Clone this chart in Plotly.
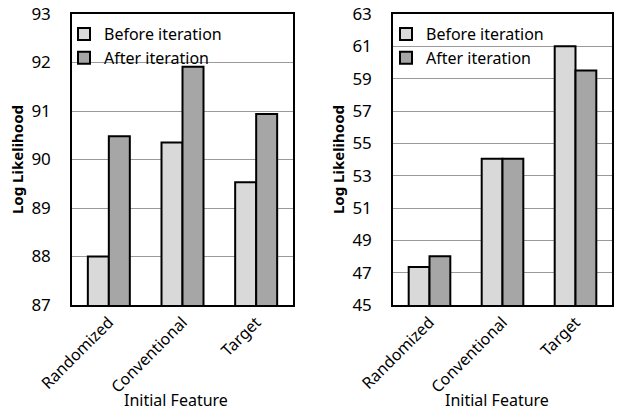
import plotly.graph_objects as go

categories = ["Randomized", "Conventional", "Target"]
left_before = [88.0, 90.35, 89.53]
left_after = [90.48, 91.91, 90.94]
right_before = [47.35, 54.05, 61.0]
right_after = [48.02, 54.05, 59.5]
left_ticks = [87, 88, 89, 90, 91, 92, 93]
right_ticks = [45, 47, 49, 51, 53, 55, 57, 59, 61, 63]

C_BEFORE = "#d9d9d9"
C_AFTER = "#a6a6a6"
FONT = "Noto Sans"

W, H = 617, 412
def px(X):
    return X / W
def py(Y):
    return 1 - Y / H

fig = go.Figure()
common = dict(marker_line=dict(color="black", width=2))
fig.add_trace(go.Bar(x=categories, y=left_before, name="Before iteration",
                     marker_color=C_BEFORE, xaxis="x", yaxis="y", legend="legend", **common))
fig.add_trace(go.Bar(x=categories, y=left_after, name="After iteration",
                     marker_color=C_AFTER, xaxis="x", yaxis="y", legend="legend", **common))
fig.add_trace(go.Bar(x=categories, y=right_before, name="Before iteration",
                     marker_color=C_BEFORE, xaxis="x2", yaxis="y2", legend="legend2", **common))
fig.add_trace(go.Bar(x=categories, y=right_after, name="After iteration",
                     marker_color=C_AFTER, xaxis="x2", yaxis="y2", legend="legend2", **common))

xax = dict(showline=True, linecolor="black", linewidth=1.5, mirror=True,
           tickangle=-45, ticks="", tickfont=dict(size=16, color="black", family=FONT),
           automargin=False, showgrid=False)
yax = dict(showline=True, linecolor="black", linewidth=1.5, mirror=True,
           showgrid=True, gridcolor="#9a9a9a", gridwidth=1, ticks="",
           tickfont=dict(size=17, color="black", family=FONT), ticklabelstandoff=16,
           title=dict(text="<b>Log Likelihood</b>", font=dict(size=15, color="black", family=FONT), standoff=4),
           automargin=False, zeroline=False)

y0, y1 = py(305), py(14)
leg = dict(xanchor="left", yanchor="top", bgcolor="rgba(0,0,0,0)",
           font=dict(size=16, family=FONT), tracegroupgap=0, itemwidth=30)
fig.update_layout(
    width=W, height=H,
    margin=dict(l=0, r=0, t=0, b=0),
    paper_bgcolor="white", plot_bgcolor="white",
    barmode="group", bargap=0.43, bargroupgap=0,
    font=dict(family=FONT, color="black"),
    xaxis=dict(domain=[px(72), px(293)], anchor="y", **xax),
    yaxis=dict(domain=[y0, y1], anchor="x", range=[87, 93], tickvals=left_ticks, **yax),
    xaxis2=dict(domain=[px(393), px(612)], anchor="y2", **xax),
    yaxis2=dict(domain=[y0, y1], anchor="x2", range=[45, 63], tickvals=right_ticks, **yax),
    legend=dict(x=px(64), y=py(17), **leg),
    legend2=dict(x=px(386), y=py(17), **leg),
    annotations=[
        dict(text="Initial Feature", xref="paper", yref="paper", x=px(176), y=py(400),
             xanchor="center", yanchor="middle", showarrow=False,
             font=dict(size=16, color="black", family=FONT)),
        dict(text="Initial Feature", xref="paper", yref="paper", x=px(497), y=py(400),
             xanchor="center", yanchor="middle", showarrow=False,
             font=dict(size=16, color="black", family=FONT)),
    ],
)

fig.write_html("out.html", config={"displayModeBar": False},
               post_script="document.body.style.margin='0px';")
